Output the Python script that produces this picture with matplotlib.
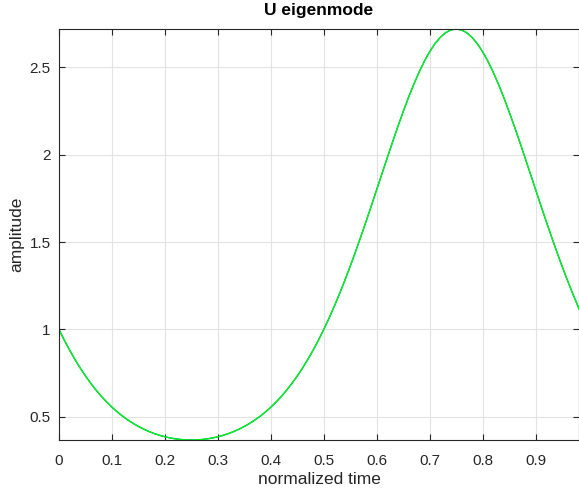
import matplotlib
matplotlib.use('Agg')
import matplotlib.pyplot as plt

# -- data -- #
t = [k / 100 for k in range(100)]
u_exact = [1.0000, 0.9391, 0.8822, 0.8291, 0.7798, 0.7342, 0.6920, 0.6532, 0.6177, 0.5852,
           0.5556, 0.5287, 0.5043, 0.4824, 0.4628, 0.4453, 0.4299, 0.4163, 0.4046, 0.3947,
           0.3863, 0.3796, 0.3745, 0.3708, 0.3686, 0.3679, 0.3686, 0.3708, 0.3745, 0.3796,
           0.3863, 0.3947, 0.4046, 0.4163, 0.4299, 0.4453, 0.4628, 0.4824, 0.5043, 0.5287,
           0.5556, 0.5852, 0.6177, 0.6532, 0.6920, 0.7342, 0.7798, 0.8291, 0.8822, 0.9391,
           1.0000, 1.0648, 1.1335, 1.2061, 1.2823, 1.3621, 1.4450, 1.5308, 1.6189, 1.7089,
           1.8000, 1.8916, 1.9830, 2.0730, 2.1609, 2.2457, 2.3264, 2.4020, 2.4713, 2.5339,
           2.5885, 2.6341, 2.6705, 2.6970, 2.7129, 2.7183, 2.7129, 2.6970, 2.6705, 2.6341,
           2.5885, 2.5339, 2.4713, 2.4020, 2.3264, 2.2457, 2.1609, 2.0730, 1.9830, 1.8916,
           1.8000, 1.7089, 1.6189, 1.5308, 1.4450, 1.3621, 1.2823, 1.2061, 1.1335, 1.0648]
u_numeric = list(u_exact)

x_ticks = [0, 0.1, 0.2, 0.3, 0.4, 0.5, 0.6, 0.7, 0.8, 0.9]
x_ticklabels = ['0', '0.1', '0.2', '0.3', '0.4', '0.5', '0.6', '0.7', '0.8', '0.9']
y_ticks = [0.5, 1, 1.5, 2, 2.5]
y_ticklabels = ['0.5', '1', '1.5', '2', '2.5']

plt.rcParams['font.family'] = ['Liberation Sans', 'DejaVu Sans']

fig = plt.figure(figsize=(5.79, 4.88), dpi=100)
ax = fig.add_axes([59 / 579, 48 / 488, 520 / 579, 411 / 488])

ax.plot(t, u_exact, color='#0072bd', linewidth=1.0)
ax.plot(t, u_numeric, color='#00ff00', linewidth=0.9)

ax.set_xlim(0, 0.982)
ax.set_ylim(0.3679, 2.7183)
ax.set_xticks(x_ticks)
ax.set_xticklabels(x_ticklabels)
ax.set_yticks(y_ticks)
ax.set_yticklabels(y_ticklabels)

ax.grid(True, color='#e3e3e3', linewidth=0.8)
ax.set_axisbelow(True)
for side in ax.spines.values():
    side.set_color('#262626')
    side.set_linewidth(0.8)
ax.tick_params(direction='in', top=True, right=True, length=4, width=0.8,
               labelsize=11, colors='#262626')
ax.tick_params(axis='x', pad=10)
ax.tick_params(axis='y', pad=6)

ax.set_xlabel('normalized time', fontsize=12.5, color='#262626', labelpad=3)
ax.set_ylabel('amplitude', fontsize=12.5, color='#262626', labelpad=4)
ax.set_title('U eigenmode', fontsize=12.5, fontweight='bold', pad=10)

fig.savefig('out.png', dpi=100)
